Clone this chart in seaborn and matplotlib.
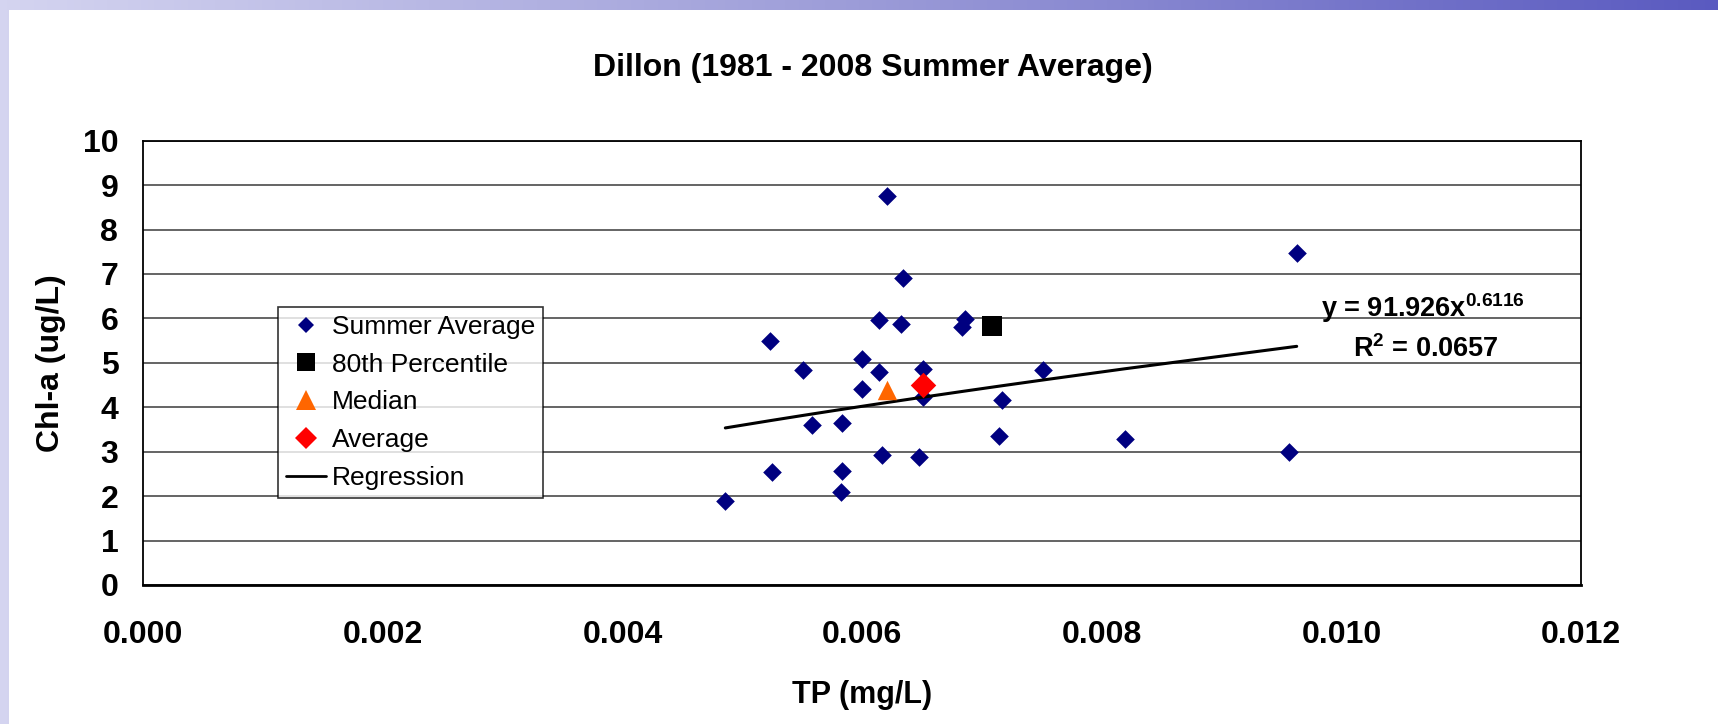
import numpy as np
import pandas as pd
import matplotlib
matplotlib.use("Agg")
import matplotlib.pyplot as plt
from matplotlib.lines import Line2D
from matplotlib.patches import Rectangle
from matplotlib.ticker import FormatStrFormatter, MultipleLocator
import seaborn as sns

# ---- dados ----
tp = [0.006209, 0.006337, 0.006140, 0.006326, 0.006857, 0.006832, 0.005232,
      0.005998, 0.005505, 0.006140, 0.006504, 0.007506, 0.005998, 0.006504,
      0.007163, 0.005578, 0.005833, 0.007141, 0.006162, 0.006471, 0.005247,
      0.005833, 0.005822, 0.004857, 0.009625, 0.009563, 0.008195]
chla = [8.76, 6.92, 5.96, 5.87, 5.99, 5.80, 5.49,
        5.08, 4.85, 4.79, 4.86, 4.85, 4.41, 4.24,
        4.16, 3.59, 3.65, 3.36, 2.92, 2.89, 2.54,
        2.57, 2.09, 1.90, 7.48, 3.00, 3.28]
p80_tp, p80_chla = [0.007085], [5.82]
median_tp, median_chla = [0.006209], [4.40]
avg_tp, avg_chla = [0.006504], [4.50]

# linha de tendência (potência) do Excel
COEF, EXPO = 91.926, 0.6116
R2 = 0.0657

NAVY = "#000080"
ORANGE = "#FF6600"
RED = "#FF0000"

sns.set_style("white")
plt.rcParams["font.family"] = ["Liberation Sans", "DejaVu Sans"]
plt.rcParams["mathtext.default"] = "regular"
plt.rcParams["text.color"] = "black"
plt.rcParams["axes.labelcolor"] = "black"
plt.rcParams["xtick.color"] = "black"
plt.rcParams["ytick.color"] = "black"

W, H = 1718, 724
fig = plt.figure(figsize=(W / 100, H / 100), dpi=100)

# fundo do slide (faixa azul em cima e à esquerda)
bg = fig.add_axes([0, 0, 1, 1], zorder=-10)
grad = np.linspace(0, 1, 256)[None, :]
cmap = matplotlib.colors.LinearSegmentedColormap.from_list(
    "slide", ["#d4d4f0", "#9c9cd8", "#5a5ac0"])
bg.imshow(grad, aspect="auto", cmap=cmap, extent=[0, 1, 0, 1])
bg.add_patch(Rectangle((9 / W, 0), 1, 1 - 10 / H, color="white", lw=0))
bg.set_xlim(0, 1); bg.set_ylim(0, 1)
bg.axis("off")

ax = fig.add_axes([143.3 / W, 1 - 585 / H, 1438 / W, 444.3 / H])
ax.set_facecolor("none")

df = pd.DataFrame({"tp": tp, "chla": chla})
sns.scatterplot(data=df, x="tp", y="chla", marker="D", s=9.5 ** 2, color=NAVY,
                linewidth=0, ax=ax, zorder=3)
sns.scatterplot(x=p80_tp, y=p80_chla, marker="s", s=13.7 ** 2, color="black",
                linewidth=0, ax=ax, zorder=4)
sns.scatterplot(x=median_tp, y=median_chla, marker="^", s=14 ** 2, color=ORANGE,
                linewidth=0, ax=ax, zorder=4)
sns.scatterplot(x=avg_tp, y=avg_chla, marker="D", s=13 ** 2, color=RED,
                linewidth=0, ax=ax, zorder=4)

fit_x = np.sort(np.array(tp))
fit_y = COEF * fit_x ** EXPO
sns.lineplot(x=fit_x, y=fit_y, color="black", lw=2.2, ax=ax, zorder=3,
             sort=False, estimator=None)

ax.set_xlim(0, 0.012)
ax.set_ylim(0, 10)
ax.xaxis.set_major_locator(MultipleLocator(0.002))
ax.xaxis.set_major_formatter(FormatStrFormatter("%.3f"))
ax.yaxis.set_major_locator(MultipleLocator(1))
ax.yaxis.grid(True, color="#3a3a3a", lw=1.1)
ax.xaxis.grid(False)
for s in ax.spines.values():
    s.set_visible(True)
    s.set_color("black")
    s.set_linewidth(1.3)
ax.spines["bottom"].set_linewidth(2)

ax.tick_params(axis="both", which="major", direction="out", length=7,
               width=1, color="#555555", labelsize=23)
ax.tick_params(axis="y", pad=11)
ax.tick_params(axis="x", pad=18.5)
for lbl in ax.get_xticklabels() + ax.get_yticklabels():
    lbl.set_fontweight("bold")

ax.set_xlabel("TP (mg/L)", fontsize=22, fontweight="bold", labelpad=21)
ax.set_ylabel("Chl-a (ug/L)", fontsize=23, fontweight="bold")
ax.yaxis.set_label_coords(-0.0537, 0.5)

fig.text(873 / W, 1 - 76 / H, "Dillon (1981 - 2008 Summer Average)",
         ha="center", va="baseline", fontsize=23, fontweight="bold")

# equação da regressão
ax.text(0.01068, 6.03, "y = 91.926x$^{0.6116}$", ha="center", va="baseline",
        fontsize=19.5, fontweight="bold")
ax.text(0.01070, 5.14, "R$^{2}$ = 0.0657", ha="center", va="baseline",
        fontsize=19.5, fontweight="bold")

handles = [
    Line2D([], [], marker="D", color=NAVY, ls="none", ms=8.5, mew=0),
    Line2D([], [], marker="s", color="black", ls="none", ms=13, mew=0),
    Line2D([], [], marker="^", color=ORANGE, ls="none", ms=14, mew=0),
    Line2D([], [], marker="D", color=RED, ls="none", ms=11, mew=0),
    Line2D([], [], color="black", lw=2),
]
labels = ["Summer Average", "80th Percentile", "Median", "Average", "Regression"]
leg = ax.legend(handles, labels, loc="upper left", bbox_to_anchor=(0.0937, 0.6257),
                borderaxespad=0, frameon=True, fancybox=False, fontsize=19,
                labelspacing=0.52, handlelength=1.5, handletextpad=0.25,
                borderpad=0.3)
leg.get_frame().set_edgecolor("black")
leg.get_frame().set_linewidth(1.2)
leg.set_zorder(5)

fig.savefig("out.png", dpi=100)
